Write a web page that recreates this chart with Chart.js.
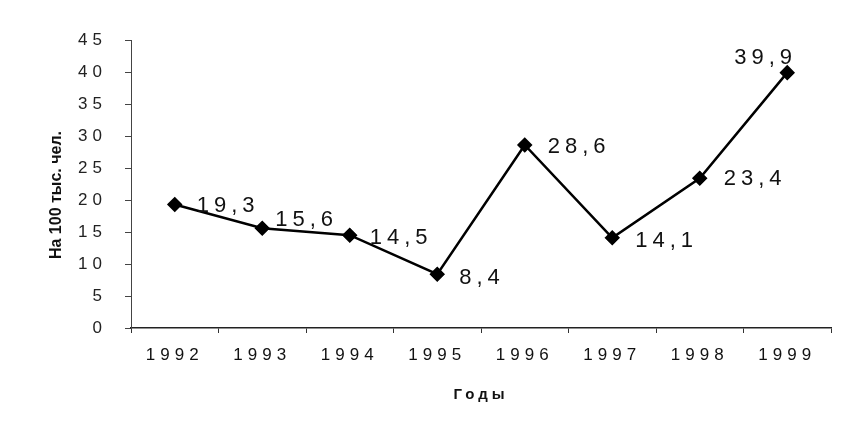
<!DOCTYPE html>
<html>
<head>
<meta charset="utf-8">
<script src="https://cdn.jsdelivr.net/npm/chart.js@4.4.1/dist/chart.umd.min.js"></script>
<style>
  html, body { margin: 0; padding: 0; background: #fff; }
  #wrap { width: 844px; height: 425px; }
</style>
</head>
<body>
<div id="wrap"><canvas id="rateChart" width="844" height="425"></canvas></div>
<script>
// Data
const years = ['1992', '1993', '1994', '1995', '1996', '1997', '1998', '1999'];
const ratePer100k = [19.3, 15.6, 14.5, 8.4, 28.6, 14.1, 23.4, 39.9];
const yTicks = [0, 5, 10, 15, 20, 25, 30, 35, 40, 45];
const xTitle = 'Годы';
const yTitle = 'На 100 тыс. чел.';

const FONT = 'Arial, "Liberation Sans", sans-serif';

// russian decimal comma
function fmt(v) {
  return v.toFixed(1).replace('.', ',');
}

// per-point label nudges (dx, dy from the marker), most sit to the right
const labelNudge = [
  [22, 1], [13, -8], [20, 3], [22, 4], [23, 2], [23, 3], [24, 1], [-53, -15]
];

const valueLabels = {
  id: 'valueLabels',
  afterDatasetsDraw(chart) {
    const ctx = chart.ctx;
    const meta = chart.getDatasetMeta(0);
    ctx.save();
    ctx.font = '22px ' + FONT;
    ctx.letterSpacing = '5px';
    ctx.fillStyle = '#111';
    ctx.textAlign = 'left';
    ctx.textBaseline = 'middle';
    meta.data.forEach((pt, i) => {
      const [dx, dy] = labelNudge[i];
      ctx.fillText(fmt(ratePer100k[i]), pt.x + dx, pt.y + dy);
    });
    ctx.restore();
  }
};

// spaced-out digits like the original print, titles drawn by hand
const spacedText = {
  id: 'spacedText',
  beforeDraw(chart) { chart.ctx.letterSpacing = '5px'; },
  afterDraw(chart) {
    const ctx = chart.ctx;
    const area = chart.chartArea;
    ctx.save();
    ctx.fillStyle = '#111';
    ctx.textAlign = 'center';
    ctx.textBaseline = 'middle';
    ctx.letterSpacing = '4px';
    ctx.font = 'bold 15px ' + FONT;
    ctx.fillText(xTitle, (area.left + area.right) / 2, 395);
    ctx.letterSpacing = '0px';
    ctx.font = 'bold 16px ' + FONT;
    ctx.translate(57, 195);
    ctx.rotate(-Math.PI / 2);
    ctx.fillText(yTitle, 0, 0);
    ctx.restore();
    ctx.letterSpacing = '0px';
  }
};

const ctx = document.getElementById('rateChart').getContext('2d');
new Chart(ctx, {
  type: 'line',
  data: {
    labels: years,
    datasets: [{
      data: ratePer100k,
      borderColor: '#000',
      borderWidth: 2.5,
      pointStyle: 'rectRot',
      pointRadius: 6,
      pointBackgroundColor: '#000',
      pointBorderColor: '#000',
      tension: 0
    }]
  },
  options: {
    responsive: false,
    animation: false,
    layout: { padding: { left: 0, right: 13, top: 40, bottom: 0 } },
    plugins: {
      legend: { display: false },
      tooltip: { enabled: false }
    },
    scales: {
      x: {
        offset: true,
        afterFit: (s) => { s.height = 97; },
        grid: { offset: true, drawOnChartArea: false, tickLength: 5, color: '#333' },
        border: { color: '#222', width: 1.5 },
        ticks: {
          color: '#111',
          padding: 12,
          maxRotation: 0,
          font: { family: FONT, size: 17 }
        }
      },
      y: {
        min: 0,
        max: 45,
        afterFit: (s) => { s.width = 131; },
        afterBuildTicks: (s) => { s.ticks = yTicks.map(v => ({ value: v })); },
        grid: { drawOnChartArea: false, tickLength: 6, color: '#444' },
        border: { color: '#444', width: 1, dash: [3, 2] },
        ticks: {
          color: '#222',
          padding: 18,
          font: { family: FONT, size: 17 }
        }
      }
    }
  },
  plugins: [spacedText, valueLabels]
});
</script>
</body>
</html>
